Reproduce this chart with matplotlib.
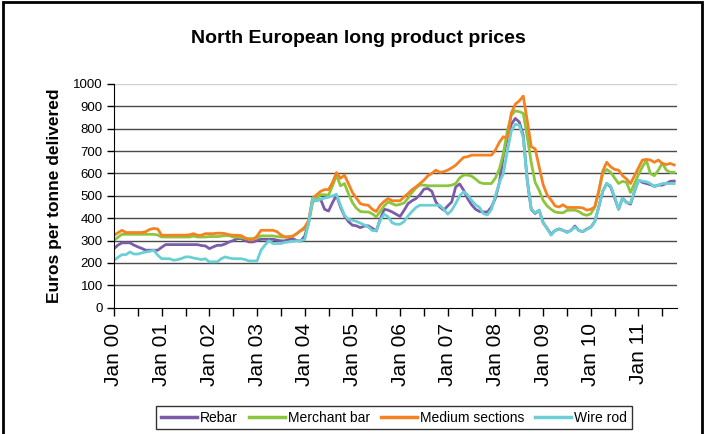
import matplotlib
matplotlib.use("Agg")
import matplotlib.pyplot as plt
import numpy as np

plt.rcParams['font.family'] = ['Liberation Sans', 'DejaVu Sans']

# monthly prices, Jan 2000 -> Oct 2011 (euros per tonne delivered)
rebar = [264, 280, 290, 290, 290, 280, 272, 265, 257, 257, 257, 257,
         270, 282, 282, 282, 282, 282, 282, 282, 282, 282, 278, 276,
         264, 272, 279, 279, 285, 294, 300, 309, 309, 300, 294, 294,
         300, 306, 306, 306, 306, 302, 299, 299, 305, 309, 300, 298,
         320, 380, 490, 478, 485, 440, 432, 470, 503, 450, 410, 385,
         369, 366, 358, 365, 366, 355, 343, 395, 440, 436, 428, 418,
         408, 435, 465, 478, 488, 505, 530, 533, 520, 473, 450, 436,
         455, 473, 540, 553, 525, 488, 460, 440, 430, 428, 428, 450,
         490, 560, 680, 760, 820, 846, 830, 770, 570, 440, 421, 436,
         380, 355, 328, 345, 352, 346, 338, 345, 365, 345, 340, 352,
         360, 385, 450, 520, 555, 540, 490, 440, 490, 470, 463, 520,
         570, 560, 555, 550, 543, 548, 548, 555, 565, 566]

merchant_bar = [301, 315, 328, 328, 328, 328, 328, 328, 328, 328, 328, 325,
                316, 316, 316, 316, 316, 316, 316, 316, 320, 316, 316, 316,
                318, 318, 318, 320, 322, 322, 316, 316, 314, 310, 309, 309,
                312, 321, 321, 321, 321, 318, 316, 316, 318, 320, 331, 345,
                350, 385, 470, 490, 505, 505, 503, 545, 593, 545, 555, 510,
                470, 445, 430, 428, 428, 420, 406, 430, 455, 473, 465, 458,
                462, 468, 490, 515, 535, 548, 548, 545, 545, 545, 545, 545,
                545, 548, 555, 580, 593, 593, 588, 575, 560, 555, 555, 555,
                580, 620, 690, 790, 860, 880, 876, 869, 764, 650, 560, 525,
                480, 455, 440, 428, 425, 424, 435, 436, 436, 430, 418, 413,
                420, 450, 520, 600, 618, 605, 580, 555, 565, 560, 515, 555,
                595, 630, 658, 600, 590, 615, 646, 615, 605, 605]

medium_sections = [324, 335, 346, 336, 336, 336, 336, 336, 340, 350, 354, 352,
                   324, 324, 324, 324, 324, 324, 324, 326, 331, 324, 324, 331,
                   331, 331, 333, 333, 331, 326, 324, 324, 322, 312, 304, 304,
                   320, 346, 346, 346, 346, 340, 325, 316, 316, 320, 331, 345,
                   360, 390, 490, 505, 520, 528, 528, 560, 604, 578, 593, 555,
                   515, 490, 465, 460, 458, 440, 430, 458, 475, 488, 478, 478,
                   478, 495, 510, 528, 540, 555, 570, 590, 600, 615, 605, 608,
                   615, 625, 637, 655, 672, 675, 682, 682, 682, 682, 682, 682,
                   705, 740, 764, 757, 870, 910, 924, 946, 836, 720, 710, 630,
                   550, 505, 482, 455, 450, 460, 448, 448, 448, 448, 446, 436,
                   440, 450, 520, 610, 650, 630, 618, 615, 590, 575, 555, 590,
                   625, 660, 663, 660, 650, 660, 645, 640, 645, 638]

wire_rod = [212, 225, 237, 237, 249, 240, 240, 245, 249, 252, 257, 235,
            219, 219, 219, 212, 215, 220, 227, 227, 222, 219, 215, 219,
            205, 205, 205, 219, 227, 222, 219, 219, 219, 215, 209, 209,
            209, 257, 280, 299, 287, 287, 287, 292, 294, 297, 299, 300,
            304, 380, 488, 478, 485, 490, 494, 500, 507, 458, 413, 395,
            391, 386, 378, 370, 361, 345, 345, 390, 418, 406, 380, 373,
            373, 385, 410, 430, 448, 458, 458, 458, 458, 458, 458, 440,
            418, 436, 466, 500, 518, 505, 480, 460, 448, 420, 415, 440,
            500, 560, 600, 700, 790, 820, 816, 760, 570, 443, 424, 436,
            380, 355, 324, 345, 350, 346, 336, 345, 360, 345, 340, 350,
            360, 385, 450, 520, 555, 545, 495, 440, 490, 470, 468, 520,
            570, 565, 563, 555, 540, 548, 555, 555, 555, 555]

series_names = ["Rebar", "Merchant bar", "Medium sections", "Wire rod"]
series_colors = ["#7b5ca8", "#8cc63e", "#f68121", "#6bcfd6"]
year_labels = ["Jan %02d" % y for y in range(0, 12)]

months = np.arange(len(rebar))

fig = plt.figure(figsize=(7.05, 4.34), dpi=100)
ax = fig.add_axes([0.1617, 0.291, 0.7986, 0.5155])

# gridlines first, lines on top
for v in range(100, 1000, 100):
    ax.axhline(v, color="#4a4a4a", lw=1.0, zorder=1)
ax.axhline(1000, color="#d0d0d0", lw=1.0, zorder=1)

for vals, name, col in zip([rebar, merchant_bar, medium_sections, wire_rod],
                           series_names, series_colors):
    ax.plot(months, vals, color=col, lw=2.0, label=name, zorder=3)

ax.set_xlim(0, 141.7)
ax.set_ylim(0, 1000)
ax.set_yticks(range(0, 1001, 100))
ax.set_xticks(np.arange(0, 12) * 12)
ax.set_xticklabels(year_labels, rotation=90, fontsize=15)
ax.set_xticks(np.arange(0, 12) * 12 + 6, minor=True)
ax.tick_params(axis="x", which="both", direction="out", length=6, width=1, pad=5)
ax.tick_params(axis="y", direction="out", length=5, width=1, labelsize=9.5, pad=3)

for s in ["top", "right"]:
    ax.spines[s].set_visible(False)
ax.spines["left"].set_color("black")
ax.spines["bottom"].set_color("black")
ax.spines["left"].set_zorder(4)
ax.spines["bottom"].set_zorder(4)

ax.set_ylabel("Euros per tonne delivered", fontsize=12.5, fontweight="bold", labelpad=8)
fig.text(0.508, 0.912, "North European long product prices", ha="center", va="center",
         fontsize=14, fontweight="bold")

leg = fig.legend(loc="center", bbox_to_anchor=(0.5586, 0.038), ncol=4, fontsize=10,
                 frameon=True, fancybox=False, edgecolor="black", handlelength=2.6,
                 handletextpad=0.2, columnspacing=0.8, borderpad=0.35)
for line in leg.get_lines():
    line.set_linewidth(2.5)

# black frame round the whole chart
fig.patches.append(plt.Rectangle((0.004, -0.02), 0.992, 1.015, transform=fig.transFigure,
                                 fill=False, edgecolor="black", lw=2))

fig.savefig("out.png", dpi=100)
